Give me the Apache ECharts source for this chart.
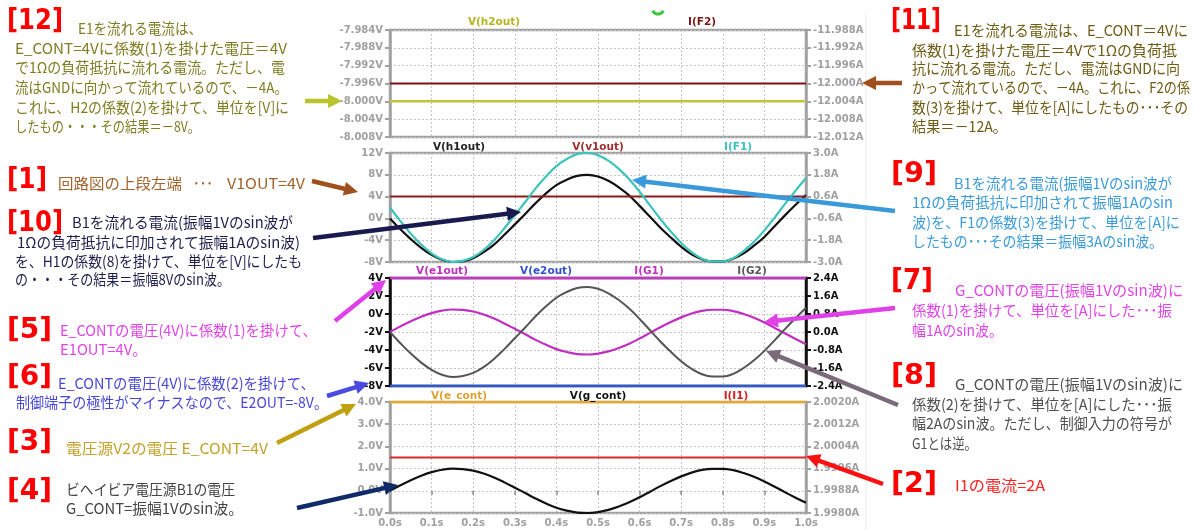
<!DOCTYPE html>
<html><head><meta charset="utf-8">
<script src="https://cdn.jsdelivr.net/npm/echarts@6/dist/echarts.min.js"></script>
<style>html,body{margin:0;padding:0;background:#fff}#c{width:1204px;height:530px}</style>
</head><body><div id="c"></div>
<script>
// ---- data ----
const time = [0,0.025,0.05,0.075,0.1,0.125,0.15,0.175,0.2,0.225,0.25,0.275,0.3,0.325,0.35,0.375,0.4,0.425,0.45,0.475,0.5,0.525,0.55,0.575,0.6,0.625,0.65,0.675,0.7,0.725,0.75,0.775,0.8,0.825,0.85,0.875,0.9,0.925,0.95,0.975,1.0];
const constTime = [0, 1.0];
// panel 1
const vH2out = [-8.000, -8.000];
const iF2 = [-12.000, -12.000];
// panel 2
const vH1out = [0,-2.0,-3.8,-5.4,-6.7,-7.6,-8.0,-7.9,-7.3,-6.2,-4.8,-3.0,-1.1,0.8,2.8,4.6,6.1,7.1,7.8,8.0,7.7,6.9,5.7,4.2,2.3,0.3,-1.7,-3.5,-5.2,-6.6,-7.5,-7.9,-7.9,-7.4,-6.4,-5.0,-3.4,-1.4,0.6,2.5,4.3];
const vV1out = [4, 4];
const iF1 = [0,-0.75,-1.44,-2.04,-2.52,-2.85,-3.0,-2.94,-2.73,-2.34,-1.8,-1.14,-0.42,0.3,1.05,1.71,2.28,2.67,2.94,3.0,2.88,2.58,2.13,1.56,0.87,0.12,-0.63,-1.32,-1.95,-2.46,-2.82,-2.97,-2.97,-2.79,-2.4,-1.89,-1.26,-0.54,0.21,0.93,1.62];
// panel 3
const vE1out = [4, 4];
const vE2out = [-8, -8];
const iG1 = [0,0.25,0.48,0.68,0.84,0.95,1.0,0.98,0.91,0.78,0.6,0.38,0.14,-0.1,-0.35,-0.57,-0.76,-0.89,-0.98,-1.0,-0.96,-0.86,-0.71,-0.52,-0.29,-0.04,0.21,0.44,0.65,0.82,0.94,0.99,0.99,0.93,0.8,0.63,0.42,0.18,-0.07,-0.31,-0.54];
const iG2 = [0,-0.5,-0.96,-1.36,-1.68,-1.9,-2.0,-1.96,-1.82,-1.56,-1.2,-0.76,-0.28,0.2,0.7,1.14,1.52,1.78,1.96,2.0,1.92,1.72,1.42,1.04,0.58,0.08,-0.42,-0.88,-1.3,-1.64,-1.88,-1.98,-1.98,-1.86,-1.6,-1.26,-0.84,-0.36,0.14,0.62,1.08];
// panel 4
const vEcont = [4.0, 4.0];
const vGcont = [0,0.25,0.48,0.68,0.84,0.95,1.0,0.98,0.91,0.78,0.6,0.38,0.14,-0.1,-0.35,-0.57,-0.76,-0.89,-0.98,-1.0,-0.96,-0.86,-0.71,-0.52,-0.29,-0.04,0.21,0.44,0.65,0.82,0.94,0.99,0.99,0.93,0.8,0.63,0.42,0.18,-0.07,-0.31,-0.54];
const iI1 = [2.0000, 2.0000];
// ticks
const xTicks = [0,0.1,0.2,0.3,0.4,0.5,0.6,0.7,0.8,0.9,1.0];
const p1LeftTicks = [-7.984,-7.988,-7.992,-7.996,-8.000,-8.004,-8.008];
const p1RightTicks = [-11.988,-11.992,-11.996,-12.000,-12.004,-12.008,-12.012];
const p2LeftTicks = [12,8,4,0,-4,-8];
const p2RightTicks = [3.0,1.8,0.6,-0.6,-1.8,-3.0];
const p3LeftTicks = [4,2,0,-2,-4,-6,-8];
const p3RightTicks = [2.4,1.6,0.8,0.0,-0.8,-1.6,-2.4];
const p4LeftTicks = [4.0,3.0,2.0,1.0,0.0,-1.0];
const p4RightTicks = [2.0020,2.0012,2.0004,1.9996,1.9988,1.9980];

// ---- chart ----
const pair = (t, v) => t.map((x, i) => [x, v[i]]);
const GRAY = '#a2a2a2', BLK = '#111';
const panels = [{top:30,h:107,c:GRAY},{top:153,h:109,c:GRAY},{top:278,h:108,c:BLK},{top:402,h:111,c:GRAY}];
const grids = panels.map(p => ({left:390, width:416, top:p.top, height:p.h, show:true, borderColor:p.c, borderWidth:2.5, backgroundColor:'#fff'}));
const xAxes = panels.map((p, i) => ({
  type:'value', gridIndex:i, min:xTicks[0], max:xTicks[xTicks.length-1], interval:xTicks[1]-xTicks[0],
  axisLine:{show:false},
  axisTick:{show:i===3, length:4, lineStyle:{color:GRAY, width:2}},
  axisLabel:{show:i===3, color:'#a0a0a0', fontWeight:'bold', fontSize:10, fontFamily:'DejaVu Sans', margin:5, formatter:v=>v.toFixed(1)+'s'},
  splitLine:{show:true, lineStyle:{color:'#c4c4c4', type:[2,2], width:1}}
}));
function yax(gi, ticks, pos, col, dec, unit, split){
  const mn = Math.min(...ticks), mx = Math.max(...ticks);
  const iv = +Math.abs(ticks[0]-ticks[1]).toFixed(6);
  return {type:'value', gridIndex:gi, position:pos, min:mn, max:mx, interval:iv,
    axisLine:{show:true, onZero:false, lineStyle:{color:col, width:2.5}},
    axisTick:{show:true, length:5, lineStyle:{color:col, width:2}},
    axisLabel:{color:col==='#111'?'#111':'#a0a0a0', fontWeight:'bold', fontSize:10, fontFamily:'DejaVu Sans', margin:7,
      formatter:v=>{ if (Math.abs(v)<1e-9) v=0; return v.toFixed(dec)+unit; }},
    splitLine:{show:split, lineStyle:{color:'#c4c4c4', type:[2,2], width:1}}};
}
const yAxes = [
  yax(0,p1LeftTicks,'left',GRAY,3,'V',true), yax(0,p1RightTicks,'right',GRAY,3,'A',false),
  yax(1,p2LeftTicks,'left',GRAY,0,'V',true), yax(1,p2RightTicks,'right',GRAY,1,'A',false),
  yax(2,p3LeftTicks,'left',BLK,0,'V',true), yax(2,p3RightTicks,'right',BLK,1,'A',false),
  yax(3,p4LeftTicks,'left',GRAY,1,'V',true), yax(3,p4RightTicks,'right',GRAY,4,'A',false)
];
function ser(name, xi, yi, data, color, w){
  return {name, type:'line', xAxisIndex:xi, yAxisIndex:yi, data, symbol:'none', smooth:0.4,
    lineStyle:{color, width:w||2}, silent:true, animation:false};
}
const series = [
  ser('V(h2out)',0,0,pair(constTime,vH2out),'#c2c43a',2.5),
  ser('I(F2)',0,1,pair(constTime,iF2),'#7a1212',2),
  ser('V(h1out)',1,2,pair(time,vH1out),'#111',2.2),
  ser('V(v1out)',1,2,pair(constTime,vV1out),'#8a1c1c',2),
  ser('I(F1)',1,3,pair(time,iF1),'#3cc4bc',2.2),
  ser('V(e1out)',2,4,pair(constTime,vE1out),'#cc33cc',2.5),
  ser('V(e2out)',2,4,pair(constTime,vE2out),'#2a5ad8',2.5),
  ser('I(G1)',2,5,pair(time,iG1),'#c22ec2',2.2),
  ser('I(G2)',2,5,pair(time,iG2),'#555',2),
  ser('V(e_cont)',3,6,pair(constTime,vEcont),'#e8a828',2.5),
  ser('V(g_cont)',3,6,pair(time,vGcont),'#111',2.2),
  ser('I(I1)',3,7,pair(constTime,iI1),'#d42a2a',2)
];

// ---- annotations ----
const g = [];
const mctx = document.createElement('canvas').getContext('2d');
function txt(x, y, s, color, font, align, endX){
  let sx = 1;
  if (endX) { mctx.font = font; const w = mctx.measureText(s).width; if (w > 0) sx = (endX - x) / w; }
  g.push({type:'text', z:100, x, y, scaleX:sx, style:{text:s, x:0, y:0, fill:color, font, textAlign:align||'left', textVerticalAlign:'middle'}});
}
const TF = 'bold 10.5px "DejaVu Sans"';
[[494,22,'V(h2out)','#b4b420'],[702,22,'I(F2)','#7a1515'],
 [459,147,'V(h1out)','#222'],[598,147,'V(v1out)','#a03030'],[738,147,'I(F1)','#3cc0c0'],
 [442,271,'V(e1out)','#c030c0'],[546,271,'V(e2out)','#3050d0'],[649,271,'I(G1)','#c030c0'],[752,271,'I(G2)','#555'],
 [459,396,'V(e_cont)','#e0a030'],[598,396,'V(g_cont)','#111'],[736,396,'I(I1)','#d02020']
].forEach(a => txt(a[0], a[1], a[2], a[3], TF, 'center'));

const RF = 'bold 28px "DejaVu Sans Condensed"';
[[7,22,'[12]',63],[7,181,'[1]',47],[7,224,'[10]',63],[7,331,'[5]',52],[7,378,'[6]',52],[7,443,'[3]',52],[7,492,'[4]',52],
 [891,22,'[11]',941],[891,175,'[9]',937],[891,282,'[7]',933],[891,377,'[8]',937],[891,485,'[2]',937]
].forEach(a => txt(a[0], a[1], a[2], '#ff0000', RF, 'left', a[3]));

const JF = '15px "Noto Sans CJK JP"';
const notes = [
  ['#7d7d22', [[78,28,'E1を流れる電流は、',202],[15,48,'E_CONT=4Vに係数(1)を掛けた電圧＝4V',287],[15,67,'で1Ωの負荷抵抗に流れる電流。ただし、電',285],[15,87,'流はGNDに向かって流れているので、－4A。',288],[15,107,'これに、H2の係数(2)を掛けて、単位を[V]に',289],[15,126,'したもの・・・その結果＝－8V。',200]]],
  ['#a3632c', [[58,183,'回路図の上段左端',182],[193,183,'･･･',213],[227,183,'V1OUT=4V',305]]],
  ['#1e1e4e', [[72,222,'B1を流れる電流(振幅1Vのsin波が',293],[17,242,'1Ωの負荷抵抗に印加されて振幅1Aのsin波)',300],[15,261,'を、H1の係数(8)を掛けて、単位を[V]にしたも',302],[15,279,'の・・・その結果＝振幅8Vのsin波。',230]]],
  ['#e044e8', [[60,330,'E_CONTの電圧(4V)に係数(1)を掛けて、',317],[60,349,'E1OUT=4V。',147]]],
  ['#4848d8', [[58,383,'E_CONTの電圧(4V)に係数(2)を掛けて、',315],[16,402,'制御端子の極性がマイナスなので、E2OUT=-8V。',328]]],
  ['#c4a22a', [[66,448,'電圧源V2の電圧 E_CONT=4V',268]]],
  ['#444444', [[66,489,'ビヘイビア電圧源B1の電圧',235],[66,508,'G_CONT=振幅1Vのsin波。',243]]],
  ['#6e5c14', [[954,30,'E1を流れる電流は、E_CONT＝4Vに',1188],[912,50,'係数(1)を掛けた電圧＝4Vで1Ωの負荷抵',1177],[912,68,'抗に流れる電流。ただし、電流はGNDに向',1180],[912,87,'かって流れているので、－4A。これに、F2の係',1190],[912,107,'数(3)を掛けて、単位を[A]にしたもの･･･その',1188],[912,126,'結果＝－12A。',1007]]],
  ['#3b9bd9', [[954,183,'B1を流れる電流(振幅1Vのsin波が',1172],[912,202,'1Ωの負荷抵抗に印加されて振幅1Aのsin',1173],[912,222,'波)を、F1の係数(3)を掛けて、単位を[A]に',1180],[912,241,'したもの･･･その結果＝振幅3Aのsin波。',1163]]],
  ['#e044e8', [[955,290,'G_CONTの電圧(振幅1Vのsin波)に',1183],[912,310,'係数(1)を掛けて、単位を[A]にした･･･振',1172],[912,330,'幅1Aのsin波。',1003]]],
  ['#505050', [[955,384,'G_CONTの電圧(振幅1Vのsin波)に',1183],[912,404,'係数(2)を掛けて、単位を[A]にした･･･振',1172],[912,423,'幅2Aのsin波。ただし、制御入力の符号が',1172],[912,443,'G1とは逆。',977]]],
  ['#ff2020', [[955,485,'I1の電流=2A',1045]]]
];
notes.forEach(n => n[1].forEach(l => txt(l[0], l[1], l[2], n[0], JF, 'left', l[3])));

function arrow(x1,y1,x2,y2,c,w){
  const dx=x2-x1, dy=y2-y1, L=Math.hypot(dx,dy), ux=dx/L, uy=dy/L, hl=14, hw=7;
  const bx=x2-ux*hl, by=y2-uy*hl;
  g.push({type:'line', z:101, shape:{x1,y1,x2:bx+ux*2,y2:by+uy*2}, style:{stroke:c, lineWidth:w}});
  g.push({type:'polygon', z:101, shape:{points:[[x2,y2],[bx-uy*hw,by+ux*hw],[bx+uy*hw,by-ux*hw]]}, style:{fill:c}});
}
arrow(305,101,342,101,'#b8c42a',4.5);
arrow(312,181,358,192,'#a0501c',4.5);
arrow(313,238,521,212,'#1a1a50',4.5);
arrow(335,321,386,280,'#e040e8',4.5);
arrow(327,396,369,383,'#4a4ae0',4.5);
arrow(277,443,356,404,'#c0a010',4.5);
arrow(297,508,398,485,'#102a6a',4.5);
arrow(902,83,862,83,'#a0501c',4.5);
arrow(895,211,632,180,'#3a9ad9',4.5);
arrow(895,308,764,322,'#e040e8',4.5);
arrow(898,405,766,351,'#7a6a7a',4.5);
arrow(883,484,806,456,'#ff1010',4.5);
g.push({type:'line', z:1, shape:{x1:866,y1:14,x2:866,y2:530}, style:{stroke:'#ececec', lineWidth:1}});
g.push({type:'arc', z:50, shape:{cx:658,cy:8,r:6,startAngle:0.15*Math.PI,endAngle:0.85*Math.PI}, style:{stroke:'#3cc43c', lineWidth:3, fill:null}});

const chart = echarts.init(document.getElementById('c'), null, {renderer:'canvas'});
chart.setOption({animation:false, backgroundColor:'#fff', grid:grids, xAxis:xAxes, yAxis:yAxes, series, graphic:g});
</script></body></html>
